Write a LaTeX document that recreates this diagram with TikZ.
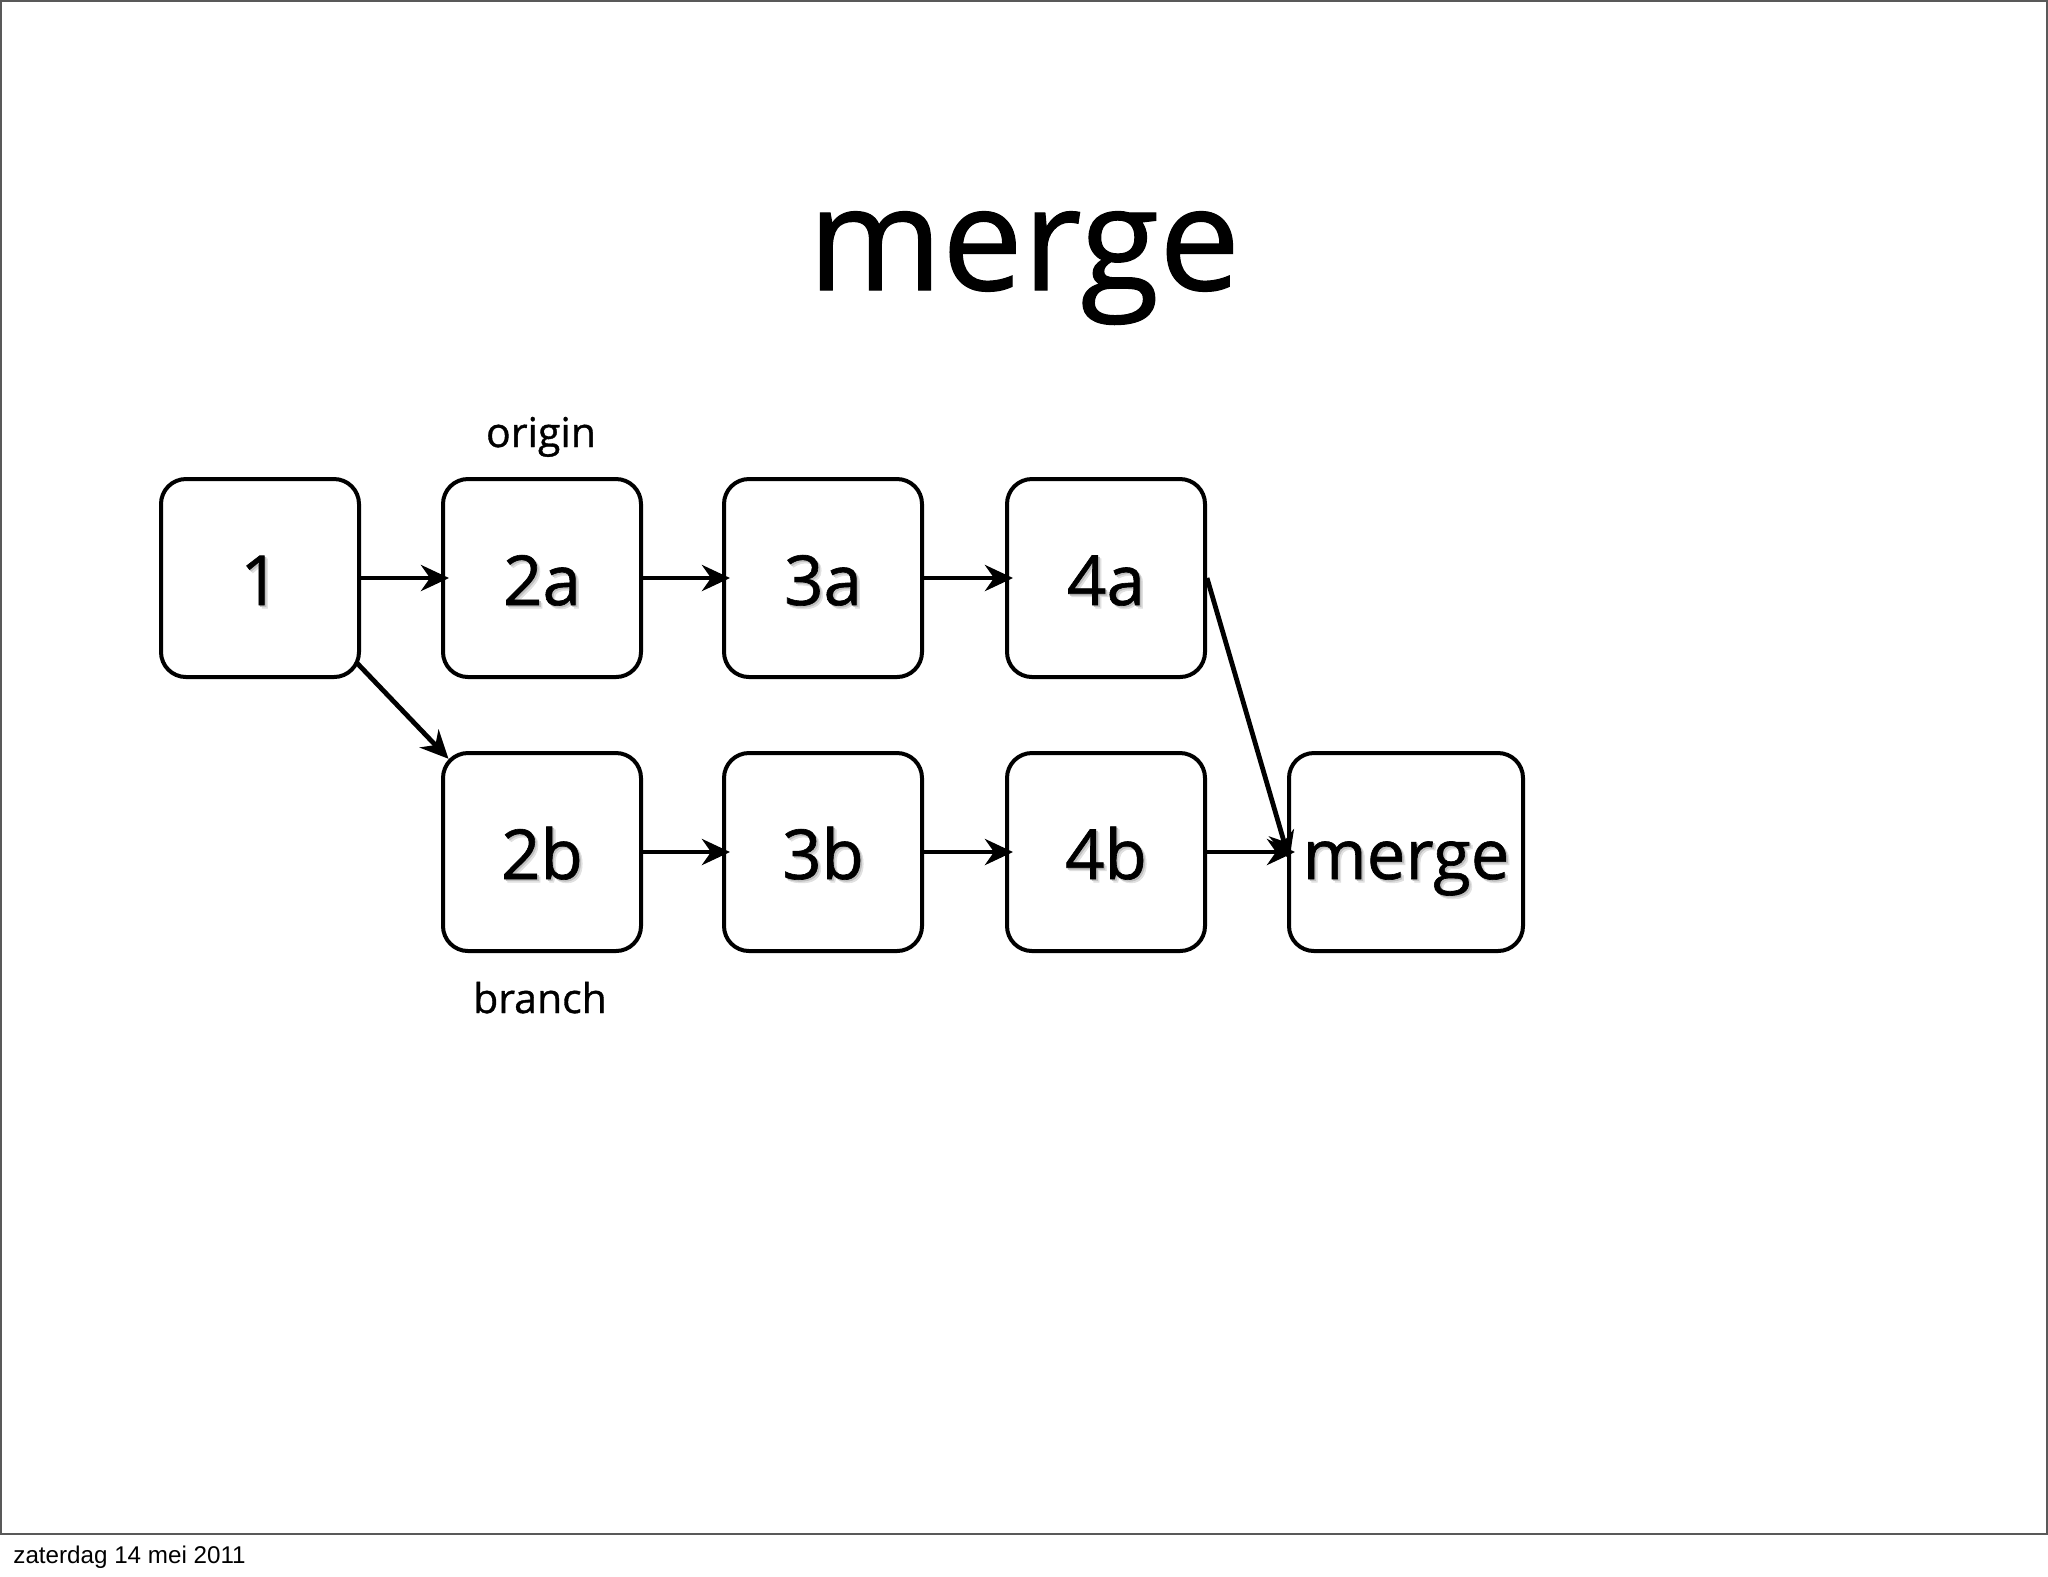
\documentclass[tikz,border=0pt]{standalone}
\usepackage{fontspec}
\setmainfont{Open Sans}[FakeBold=0.9]
\newfontfamily\datefont{Liberation Sans}
\usetikzlibrary{arrows.meta,calc}
\newcommand\shd[1]{\leavevmode\rlap{\hspace{1.6pt}\raisebox{-1.6pt}{\color{black!12}#1}}\rlap{\hspace{0.8pt}\raisebox{-0.8pt}{\color{black!25}#1}}#1}
\begin{document}
\begin{tikzpicture}[x=0.5pt,y=-0.5pt,
  commit/.style={draw, line width=2pt, rounded corners=12.5pt, minimum width=99pt, minimum height=99pt, inner sep=0pt, text height=27pt, text depth=0pt, font=\fontsize{34.5}{40}\selectfont},
  arr/.style={line width=2.4pt, -{Stealth[length=14pt,width=13pt,inset=4.5pt]}, shorten >=-4pt},
  lbl/.style={anchor=base, font=\fontsize{20.5}{24}\selectfont}]
\useasboundingbox (0,0) rectangle (2048,1576);
\draw[line width=1pt, black!65] (1,1) rectangle (2047,1534);
\node[anchor=base, font=\fontsize{72}{80}\selectfont] (title) at (1024,290) {merge};
\node[commit] (n1) at (260,578) {\shd{1}};
\node[commit] (n2a) at (542,578) {\shd{2a}};
\node[commit] (n3a) at (823,578) {\shd{3a}};
\node[commit] (n4a) at (1106,578) {\shd{4a}};
\node[commit] (n2b) at (542,852) {\shd{2b}};
\node[commit] (n3b) at (823,852) {\shd{3b}};
\node[commit] (n4b) at (1106,852) {\shd{4b}};
\node[commit, minimum width=117pt] (nm) at (1406,852) {\shd{merge}};
\node[lbl] (origin) at (541,447) {origin};
\node[lbl] (branch) at (540,1013) {branch};
\draw[arr] (n1.east) -- (n2a.west);
\draw[arr] (n2a.east) -- (n3a.west);
\draw[arr] (n3a.east) -- (n4a.west);
\draw[arr] (n2b.east) -- (n3b.west);
\draw[arr] (n3b.east) -- (n4b.west);
\draw[arr] ($(n1.south east)+(-4,-16)$) -- ($(n2b.north west)+(2,2)$);
\draw[arr] (n4a.east) -- (nm.west);
\draw[arr] (n4b.east) -- (nm.west);
\node[anchor=base west, inner sep=0pt, font=\datefont\fontsize{12.1}{14}\selectfont] (date) at (13,1563) {zaterdag 14 mei 2011};
\end{tikzpicture}
\end{document}
